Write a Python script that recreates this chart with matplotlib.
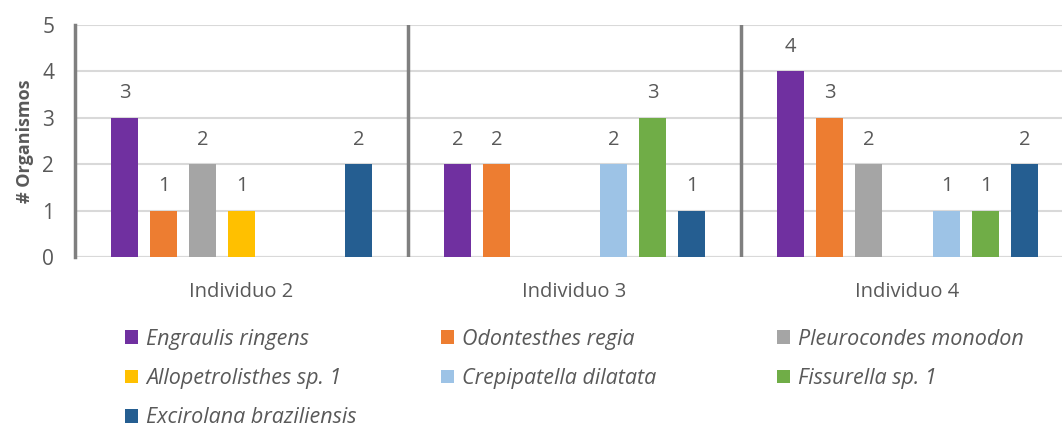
import numpy as np
import matplotlib.pyplot as plt
from matplotlib.patches import Patch

plt.rcParams['font.family'] = ['Open Sans', 'DejaVu Sans']

grupos = ['Individuo 2', 'Individuo 3', 'Individuo 4']
especies = ['Engraulis ringens', 'Odontesthes regia', 'Pleurocondes monodon',
            'Allopetrolisthes sp. 1', 'Crepipatella dilatata', 'Fissurella sp. 1',
            'Excirolana braziliensis']
valores = [
    [3, 2, 4],   # Engraulis ringens
    [1, 2, 3],   # Odontesthes regia
    [2, 0, 2],   # Pleurocondes monodon
    [1, 0, 0],   # Allopetrolisthes sp. 1
    [0, 2, 1],   # Crepipatella dilatata
    [0, 3, 1],   # Fissurella sp. 1
    [2, 1, 2],   # Excirolana braziliensis
]
colores = ['#7030A0', '#ED7D31', '#A5A5A5', '#FFC000', '#9DC3E6', '#70AD47', '#255E91']

gris_texto = '#595959'

fig = plt.figure(figsize=(10.62, 4.28), dpi=100)
ax = fig.add_axes([75 / 1062, 1 - 257 / 428, 987 / 1062, 232 / 428])

x = np.arange(len(grupos))
paso = 39 / 333
ancho = 27 / 333
for i, (esp, vals, col) in enumerate(zip(especies, valores, colores)):
    pos = x + (i - 3) * paso
    barras = ax.bar(pos, vals, ancho, color=col, label=esp, zorder=3)
    for b, v in zip(barras, vals):
        if v > 0:
            ax.text(b.get_x() + b.get_width() / 2, v + 0.53, str(v),
                    ha='center', va='center', fontsize=14.5, color=gris_texto)

ax.set_ylim(0, 5)
ax.set_xlim(-0.5, -0.5 + 987 / 333)
ax.set_yticks(range(6))
ax.set_xticks(x)
ax.set_xticklabels(grupos)
ax.tick_params(axis='both', length=0, colors=gris_texto)
ax.tick_params(axis='x', labelsize=14.5, pad=18)
ax.tick_params(axis='y', labelsize=15, pad=15)
ax.yaxis.grid(True, color='#D9D9D9', linewidth=1.5, zorder=0)

for lado in ['top', 'right', 'bottom']:
    ax.spines[lado].set_visible(False)
ax.spines['left'].set_color('#7F7F7F')
ax.spines['left'].set_linewidth(2.5)
ax.axhline(0, color='#D9D9D9', linewidth=1.5, zorder=2)
for sep in [0.5, 1.5]:
    ax.axvline(sep, color='#7F7F7F', linewidth=2.5, zorder=4)

ax.set_ylabel('# Organismos', fontsize=13, fontweight='bold', color=gris_texto, labelpad=6)

# leyenda llenada por filas: una leyenda por columna
handles = [Patch(facecolor=c, edgecolor='none') for c in colores]
columnas = [[0, 3, 6], [1, 4], [2, 5]]
x_columnas = [114, 430, 766]
for idx, x0 in zip(columnas, x_columnas):
    leg = fig.legend([handles[k] for k in idx], [especies[k] for k in idx],
                     ncol=1, loc='upper left', bbox_to_anchor=(x0 / 1062, 1 - 318 / 428),
                     frameon=False, prop={'size': 15.5, 'style': 'italic'},
                     handlelength=0.6, handleheight=0.6, handletextpad=0.4,
                     labelspacing=0.85, borderpad=0)
    for t in leg.get_texts():
        t.set_color(gris_texto)

fig.savefig('out.png', dpi=100)
